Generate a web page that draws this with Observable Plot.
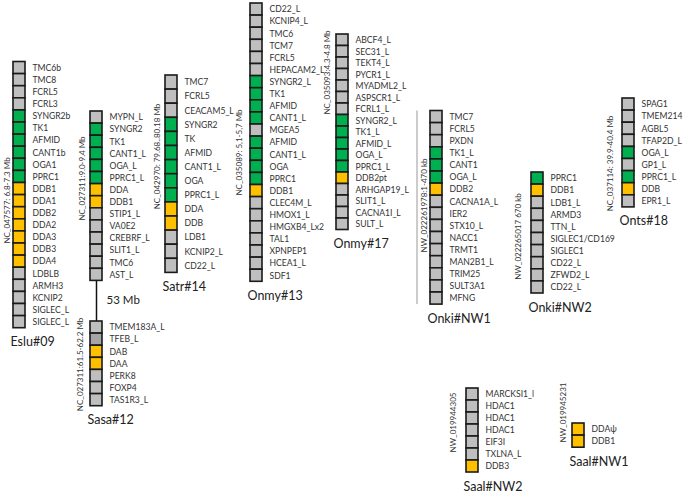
<!DOCTYPE html>
<html><head><meta charset="utf-8">
<script src="https://cdn.jsdelivr.net/npm/d3@7"></script>
<script src="https://cdn.jsdelivr.net/npm/@observablehq/plot@0.6"></script>
<style>body{margin:0;background:#fff}</style>
</head><body><div id="chart"></div>
<script>
// ---- data ----
const chromNames = ["Eslu#09","Sasa#12","Satr#14","Onmy#13","Onmy#17","Onki#NW1","Onki#NW2","Onts#18","Saal#NW2","Saal#NW1"];
const esluGenes = ["TMC6b","TMC8","FCRL5","FCRL3","SYNGR2b","TK1","AFMID","CANT1b","OGA1","PPRC1","DDB1","DDA1","DDB2","DDA2","DDA3","DDB3","DDA4","LDBLB","ARMH3","KCNIP2","SIGLEC_L","SIGLEC_L"];
const esluClass = "ggggGGGGGGYYYYYYYggggg";
const sasa1Genes = ["MYPN_L","SYNGR2","TK1","CANT1_L","OGA_L","PPRC1_L","DDA","DDB1","STIP1_L","VA0E2","CREBRF_L","SLIT1_L","TMC6","AST_L"];
const sasa1Class = "gGGGGGYYgggggg";
const sasa2Genes = ["TMEM183A_L","TFEB_L","DAB","DAA","PERK8","FOXP4","TAS1R3_L"];
const sasa2Class = "gdYYggg";
const satrGenes = ["TMC7","FCRL5","CEACAM5_L","SYNGR2","TK","AFMID","CANT1_L","OGA","PPRC1_L","DDA","DDB","LDB1","KCNIP2_L","CD22_L"];
const satrClass = "gggGGGGGGYYggg";
const onmy13Genes = ["CD22_L","KCNIP4_L","TMC6","TCM7","FCRL5","HEPACAM2_L","SYNGR2_L","TK1","AFMID","CANT1_L","MGEA5","AFMID","CANT1_L","OGA","PPRC1","DDB1","CLEC4M_L","HMOX1_L","HMGXB4_Lx2","TAL1","XPNPEP1","HCEA1_L","SDF1"];
const onmy13Class = "ggggggGGGGgGGGGYggggggg";
const onmy17Genes = ["ABCF4_L","SEC31_L","TEKT4_L","PYCR1_L","MYADML2_L","ASPSCR1_L","FCRL1_L","SYNGR2_L","TK1_L","AFMID_L","OGA_L","PPRC1_L","DDB2pt","ARHGAP19_L","SLIT1_L","CACNA1I_L","SULT_L"];
const onmy17Class = "gggggggGGGGGYgggg";
const onkiNW1Genes = ["TMC7","FCRL5","PXDN","TK1_L","CANT1","OGA_L","DDB2","CACNA1A_L","IER2","STX10_L","NACC1","TRMT1","MAN2B1_L","TRIM25","SULT3A1","MFNG"];
const onkiNW1Class = "gggGGGYggggggggg";
const onkiNW2Genes = ["PPRC1","DDB1","LDB1_L","ARMD3","TTN_L","SIGLEC1/CD169","SIGLEC1","CD22_L","ZFWD2_L","CD22_L"];
const onkiNW2Class = "GYgggggggg";
const ontsGenes = ["SPAG1","TMEM214","AGBL5","TFAP2D_L","OGA_L","GP1_L","PPRC1_L","DDB","EPR1_L"];
const ontsClass = "ggggGgGYg";
const saalNW2Genes = ["MARCKSI1_l","HDAC1","HDAC1","HDAC1","EIF3I","TXLNA_L","DDB3"];
const saalNW2Class = "ggggggY";
const saalNW1Genes = ["DDA\u03c8","DDB1"];
const saalNW1Class = "YY";
const accessions = ["NC_047577: 6.8-7.3 Mb","NC_027311:9.0-9.4 Mb","NC_027311:61.5-62.2 Mb","NC_042970: 79.68..80.18 Mb","NC_035089: 5,1-5,7 Mb","NC_035093:4.3-4.8 Mb","NW_022261978:1-470 kb","NW_022265017 670 kb","NC_037114: 39.9-40.4 Mb","NW_019944305","NW_019945231"];
const gapLabel = "53 Mb";

// ---- layout (positions in pixel units of the 685x494 frame) ----
const W = 12;
const segs = [
  {genes: esluGenes, cls: esluClass, x: 13, top: 61.5, h: 12.1, chrom: 0, acc: 0, ax: 7, ay: 200},
  {genes: sasa1Genes, cls: sasa1Class, x: 90, top: 111, h: 12.1, chrom: null, acc: 1, ax: 82, ay: 178},
  {genes: sasa2Genes, cls: sasa2Class, x: 90, top: 321, h: 12.1, chrom: 1, acc: 2, ax: 80, ay: 364},
  {genes: satrGenes, cls: satrClass, x: 165, top: 75, h: 14.1, chrom: 2, acc: 3, ax: 157, ay: 156},
  {genes: onmy13Genes, cls: onmy13Class, x: 250, top: 3, h: 12.1, chrom: 3, acc: 4, ax: 239, ay: 152},
  {genes: onmy17Genes, cls: onmy17Class, x: 336, top: 34, h: 11.5, chrom: 4, acc: 5, ax: 327, ay: 72},
  {genes: onkiNW1Genes, cls: onkiNW1Class, x: 430, top: 110.5, h: 12.1, chrom: 5, acc: 6, ax: 424, ay: 205},
  {genes: onkiNW2Genes, cls: onkiNW2Class, x: 531, top: 172, h: 12.1, chrom: 6, acc: 7, ax: 518, ay: 236},
  {genes: ontsGenes, cls: ontsClass, x: 622, top: 98, h: 12.1, chrom: 7, acc: 8, ax: 610, ay: 163},
  {genes: saalNW2Genes, cls: saalNW2Class, x: 466, top: 388, h: 12.0, chrom: 8, acc: 9, ax: 453, ay: 422},
  {genes: saalNW1Genes, cls: saalNW1Class, x: 572, top: 423, h: 12.1, chrom: 9, acc: 10, ax: 563, ay: 412}
];

const bottom = s => s.top + s.genes.length * s.h;
const blocks = segs.flatMap(s => s.genes.map((g, i) => ({
  gene: g, cls: s.cls[i], x1: s.x, x2: s.x + W, y1: s.top + i * s.h, y2: s.top + (i + 1) * s.h,
  lx: s.x + W + 7, ly: s.top + (i + 0.5) * s.h
})));
const chromLabels = segs.filter(s => s.chrom !== null).map(s => ({
  name: chromNames[s.chrom], x: s.x - 3, y: bottom(s) + 14
}));
const accLabels = segs.map(s => ({text: accessions[s.acc], x: s.ax, y: s.ay}));
const sasaGap = [{x: segs[1].x + W / 2, y1: bottom(segs[1]), y2: segs[2].top}];
const gapText = [{text: gapLabel, x: segs[1].x + W + 4, y: 300}];
const onkiBracket = [{x: 416.5, y1: segs[6].top, y2: bottom(segs[6])}];

const plot = Plot.plot({
  width: 685, height: 494,
  margin: 0,
  style: {fontFamily: "Lato, 'Open Sans', sans-serif", background: "white"},
  x: {domain: [0, 685], range: [0, 685], axis: null},
  y: {domain: [0, 494], range: [0, 494], axis: null},
  color: {domain: ["g", "G", "Y", "d"], range: ["#bfbfbf", "#00b050", "#ffc000", "#a5a5a5"]},
  marks: [
    Plot.ruleX(sasaGap, {x: "x", y1: "y1", y2: "y2", stroke: "#111", strokeWidth: 1.5}),
    Plot.ruleX(onkiBracket, {x: "x", y1: "y1", y2: "y2", stroke: "#999", strokeWidth: 1}),
    Plot.rect(blocks, {x1: "x1", x2: "x2", y1: "y1", y2: "y2", fill: "cls", stroke: "#1a1a1a", strokeWidth: 1.6}),
    Plot.text(blocks, {x: "lx", y: "ly", text: "gene", textAnchor: "start", fontSize: 8.6, fill: "#333"}),
    Plot.text(chromLabels, {x: "x", y: "y", text: "name", textAnchor: "start", fontSize: 12.5, fill: "#222"}),
    Plot.text(accLabels, {x: "x", y: "y", text: "text", rotate: -90, fontSize: 8, fill: "#333"}),
    Plot.text(gapText, {x: "x", y: "y", text: "text", textAnchor: "start", fontSize: 11.5, fill: "#222"})
  ]
});
document.getElementById("chart").appendChild(plot);
</script>
</body></html>
